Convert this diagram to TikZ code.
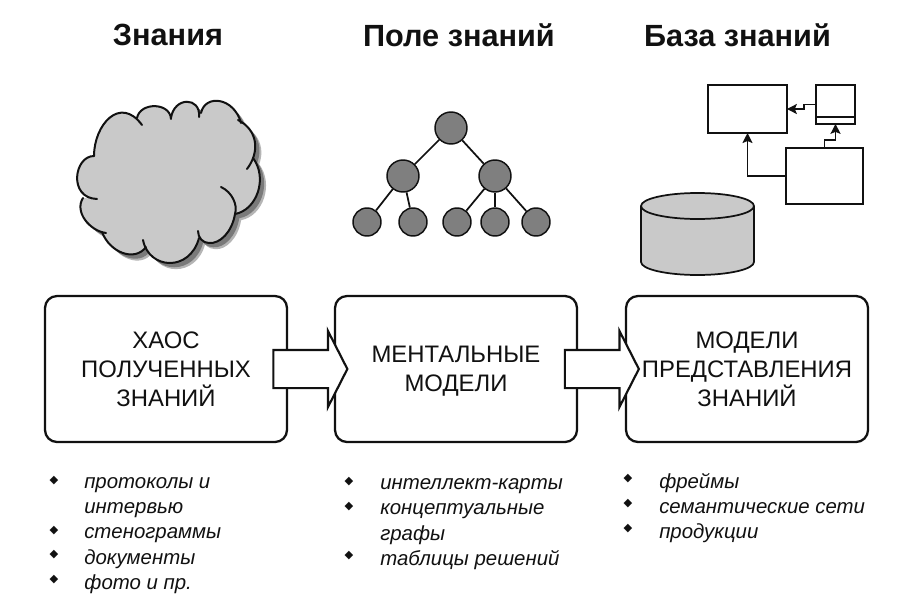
\documentclass[tikz,border=0pt]{standalone}
\usepackage{fontspec}
\setmainfont{Liberation Sans}
\newfontfamily\bulletfont{DejaVu Sans}
\usetikzlibrary{shapes.arrows,arrows.meta}
\definecolor{cloudgray}{HTML}{C9C9C9}
\definecolor{shadowgray}{HTML}{7A7A7A}
\definecolor{shadowsoft}{HTML}{B5B5B5}
\definecolor{treegray}{HTML}{7F7F7F}
\definecolor{inkc}{HTML}{111111}
\tikzset{
  every node/.style={text=inkc},
  titlelabel/.style={font=\fontsize{23}{27}\selectfont\bfseries,anchor=center,inner sep=0pt},
  mainbox/.style={draw=inkc,line width=1.7pt,fill=white,rounded corners=9pt,minimum width=181.5pt,minimum height=109.5pt,inner sep=0pt,align=center,font=\fontsize{17.9}{21.75}\selectfont},
  blockarrow/.style={draw=inkc,line width=1.6pt,fill=white,single arrow,single arrow head extend=14.25pt,single arrow tip angle=126,single arrow head indent=0pt,minimum height=55.5pt,inner sep=13.5pt,outer sep=0pt},
  treenode/.style={circle,draw=inkc,line width=1.1pt,fill=treegray,inner sep=0pt},
  treebig/.style={treenode,minimum size=24pt},
  treesmall/.style={treenode,minimum size=21pt},
  treeedge/.style={draw=inkc,line width=1.3pt},
  umlbox/.style={draw=inkc,line width=1.2pt,fill=white,inner sep=0pt,outer sep=0pt},
  umllink/.style={draw=inkc,line width=1.2pt,-{Stealth[length=7.5pt,width=7.5pt,inset=1.5pt]}},
  lobe/.style={draw=inkc,line width=1.5pt,line cap=round},
  listitem/.style={anchor=west,inner sep=0pt,font=\fontsize{15.3}{18}\selectfont\itshape},
  bulletmark/.style={anchor=center,inner sep=0pt,font=\fontsize{8.5}{10}\selectfont\bulletfont}
}
\begin{document}
\begin{tikzpicture}[x=0.75pt,y=-0.75pt]
\useasboundingbox (0,0) rectangle (909,600);
\fill[white] (0,0) rectangle (909,600);
% titles
\node[titlelabel] (t1) at (168,35) {Знания};
\node[titlelabel] (t2) at (459,35) {Поле знаний};
\node[titlelabel] (t3) at (737.5,35) {База знаний};
% cloud
\def\cloudpath{(94,156) .. controls (94,125) and (120,95) .. (142,125) -- (137,118)
 .. controls (140,102) and (170,102) .. (171,119) -- (171,118)
 .. controls (174,96.5) and (201,96.5) .. (199,117) -- (201,113)
 .. controls (205,94) and (234,97) .. (241,123) -- (238,120)
 .. controls (258,130) and (260,152) .. (247,169) -- (253,158)
 .. controls (268,178) and (257,210) .. (235,214)
 .. controls (232,232) and (220,244) .. (209,243)
 .. controls (203,243) and (198,238) .. (199,238)
 .. controls (190,272) and (149,270) .. (143,240) -- (146,247)
 .. controls (135,262) and (110,253) .. (102,232) -- (106,233)
 .. controls (90,231) and (74,212) .. (83,198) -- (97,199)
 .. controls (68,198) and (74,156) .. (94,156) -- cycle}
\fill[shadowsoft,xshift=4.6pt,yshift=-4.6pt] \cloudpath;
\fill[shadowgray,xshift=3.2pt,yshift=-3.2pt] \cloudpath;
\fill[cloudgray] \cloudpath;
\draw[lobe] (94,156) .. controls (94,125) and (120,95) .. (142,125);
\draw[lobe] (137,118) .. controls (140,102) and (170,102) .. (171,119);
\draw[lobe] (171,118) .. controls (174,96.5) and (201,96.5) .. (199,117);
\draw[lobe] (201,113) .. controls (205,94) and (234,97) .. (241,123);
\draw[lobe] (238,120) .. controls (258,130) and (260,152) .. (247,169);
\draw[lobe] (253,158) .. controls (268,178) and (257,210) .. (235,214);
\draw[lobe] (221,187) .. controls (232,192) and (238,205) .. (235,214) .. controls (232,232) and (220,244) .. (209,243) .. controls (203,243) and (198,238) .. (198,231);
\draw[lobe] (199,238) .. controls (190,272) and (149,270) .. (143,240);
\draw[lobe] (146,247) .. controls (135,262) and (110,253) .. (102,232);
\draw[lobe] (106,233) .. controls (90,231) and (74,212) .. (83,198);
\draw[lobe] (97,199) .. controls (68,198) and (74,156) .. (94,156);
% tree
\node[treebig] (r) at (451,128) {};
\node[treebig] (m1) at (403,176) {};
\node[treebig] (m2) at (495,176) {};
\node[treesmall] (l1) at (367,222) {};
\node[treesmall] (l2) at (413,222) {};
\node[treesmall] (l3) at (457,222) {};
\node[treesmall] (l4) at (495,222) {};
\node[treesmall] (l5) at (536,222) {};
\draw[treeedge] (r) -- (m1);
\draw[treeedge] (r) -- (m2);
\draw[treeedge] (m1) -- (l1);
\draw[treeedge] (m1) -- (l2);
\draw[treeedge] (m2) -- (l3);
\draw[treeedge] (m2) -- (l4);
\draw[treeedge] (m2) -- (l5);
% class diagram
\node[umlbox,minimum width=59pt,minimum height=36pt] (ca) at (747.5,109) {};
\node[umlbox,minimum width=29pt,minimum height=29pt] (cb) at (835.5,104.5) {};
\draw[draw=inkc,line width=1.2pt] (816,117) -- (855,117);
\node[umlbox,minimum width=57.5pt,minimum height=42pt] (cc) at (824.5,176) {};
\draw[umllink] (cb.west) -- ++(-12,0) |- (ca.east);
\draw[umllink] (cc.north) -- ++(0,-8) -| (cb.south);
\draw[umllink] (cc.west) -| (ca.south);
% cylinder
\draw[draw=inkc,line width=1.3pt,fill=cloudgray] (641,206) -- (641,262) arc[start angle=180,end angle=0,x radius=56.5,y radius=13] -- (754,206);
\draw[draw=inkc,line width=1.3pt,fill=cloudgray] (697.5,206) ellipse[x radius=56.5,y radius=13];
% boxes
\node[mainbox] (b1) at (166,369) {ХАОС\\ПОЛУЧЕННЫХ\\ЗНАНИЙ};
\node[mainbox] (b2) at (456,369) {\rule{0pt}{15.8pt}МЕНТАЛЬНЫЕ\\МОДЕЛИ};
\node[mainbox] (b3) at (747,369) {МОДЕЛИ\\ПРЕДСТАВЛЕНИЯ\\ЗНАНИЙ};
% block arrows
\node[blockarrow] (a1) at (305.5,369) {};
\node[blockarrow] (a2) at (597,369) {};
% lists
\node[bulletmark] (p1) at (54,481) {◆};
\node[listitem] (i1) at (84,485.5) {протоколы и};
\node[listitem] (i1b) at (84,510) {интервью};
\node[bulletmark] (p2) at (54,531) {◆};
\node[listitem] (i2) at (84,535) {стенограммы};
\node[bulletmark] (p3) at (54,555) {◆};
\node[listitem] (i3) at (84,559) {документы};
\node[bulletmark] (p4) at (54,580) {◆};
\node[listitem] (i4) at (84,584) {фото и пр.};
\node[bulletmark] (q1) at (349,482) {◆};
\node[listitem] (j1) at (380,486) {интеллект-карты};
\node[bulletmark] (q2) at (349,507) {◆};
\node[listitem] (j2) at (380,511) {концептуальные};
\node[listitem] (j2b) at (380,535) {графы};
\node[bulletmark] (q3) at (349,556) {◆};
\node[listitem] (j3) at (380,560) {таблицы решений};
\node[bulletmark] (s1) at (628,479) {◆};
\node[listitem] (k1) at (659,483) {фреймы};
\node[bulletmark] (s2) at (628,504) {◆};
\node[listitem] (k2) at (659,508) {семантические сети};
\node[bulletmark] (s3) at (628,529) {◆};
\node[listitem] (k3) at (659,533) {продукции};
\end{tikzpicture}
\end{document}
